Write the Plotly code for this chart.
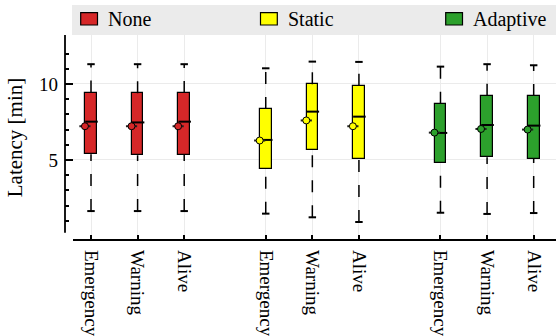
import plotly.graph_objects as go

# Latency summary statistics per scheme and message type (minutes)
schemes = ["None", "Static", "Adaptive"]
msg_types = ["Emergency", "Warning", "Alive"]
colors = ["#d62728", "#ffff00", "#2ca02c"]

q1 = {"None": [5.38, 5.31, 5.35], "Static": [4.40, 5.66, 5.07], "Adaptive": [4.80, 5.18, 5.09]}
median = {"None": [7.52, 7.47, 7.52], "Static": [6.32, 8.18, 7.85], "Adaptive": [6.78, 7.30, 7.26]}
q3 = {"None": [9.43, 9.39, 9.40], "Static": [8.36, 9.98, 9.89], "Adaptive": [8.70, 9.23, 9.21]}
mean = {"None": [7.22, 7.22, 7.22], "Static": [6.28, 7.60, 7.22], "Adaptive": [6.80, 7.04, 7.00]}
upper = {"None": [11.30, 11.30, 11.30], "Static": [11.03, 11.47, 11.45], "Adaptive": [11.14, 11.30, 11.23]}
lower = {"None": [1.64, 1.64, 1.64], "Static": [1.47, 1.23, 0.92], "Adaptive": [1.53, 1.45, 1.51]}

FONT = "Liberation Serif"
BOX_W = 0.25
GROUP_STEP = 3.75

W, H = 556, 336
ML, MR, MT, MB = 65, 0, 35, 96
PW, PH = W - ML - MR, H - MT - MB


def px_x(p):
    return (p - ML) / PW


def px_y(p):
    return (H - MB - p) / PH


fig = go.Figure()
tick_pos, tick_txt = [], []

for g, name in enumerate(schemes):
    col = colors[g]
    pos = [g * GROUP_STEP + i for i in range(len(msg_types))]
    tick_pos += pos
    tick_txt += msg_types

    # boxes (Q1..Q3)
    fig.add_trace(go.Bar(
        x=pos, y=[b - a for a, b in zip(q1[name], q3[name])], base=q1[name],
        width=BOX_W, marker=dict(color=col, line=dict(color="black", width=1.2)),
        showlegend=False, hoverinfo="skip"))

    # dashed whiskers: upper drawn from the box outward, lower from the cap inward
    ux, uy, lx, ly, cx, cy, mx, my = [], [], [], [], [], [], [], []
    for k, p in enumerate(pos):
        ux += [p, p, None]
        uy += [q3[name][k], upper[name][k], None]
        lx += [p, p, None]
        ly += [lower[name][k], q1[name][k], None]
        for v in (upper[name][k], lower[name][k]):
            cx += [p - 0.08, p + 0.08, None]
            cy += [v, v, None]
        mx += [p - BOX_W / 2, p + BOX_W / 2 + 0.02, None]
        my += [median[name][k], median[name][k], None]

    dash = dict(color="black", width=1.5, dash="12px,13px")
    fig.add_trace(go.Scatter(x=ux, y=uy, mode="lines", line=dash, showlegend=False, hoverinfo="skip"))
    fig.add_trace(go.Scatter(x=lx, y=ly, mode="lines", line=dash, showlegend=False, hoverinfo="skip"))
    fig.add_trace(go.Scatter(x=cx, y=cy, mode="lines", line=dict(color="black", width=2),
                             showlegend=False, hoverinfo="skip"))
    fig.add_trace(go.Scatter(x=mx, y=my, mode="lines", line=dict(color="black", width=2),
                             showlegend=False, hoverinfo="skip"))

    # mean with short horizontal bar
    fig.add_trace(go.Scatter(
        x=[p - 0.13 for p in pos], y=mean[name], mode="markers",
        marker=dict(symbol="circle", size=7, color=col, line=dict(color="black", width=1)),
        error_x=dict(type="constant", value=0.12, thickness=2, width=0, color="#222222"),
        showlegend=False, hoverinfo="skip"))

# legend band with swatches and labels
fig.add_shape(type="rect", xref="paper", yref="paper", x0=px_x(72), x1=1.0, y0=px_y(35), y1=px_y(5),
              fillcolor="#ebebeb", line=dict(width=0), layer="below")
swatch_left = [80.7, 260.5, 445.7]
for g, name in enumerate(schemes):
    x0 = swatch_left[g]
    fig.add_shape(type="rect", xref="paper", yref="paper",
                  x0=px_x(x0), x1=px_x(x0 + 16.8), y0=px_y(25), y1=px_y(12.7),
                  fillcolor=colors[g], line=dict(color="black", width=1.2))
    fig.add_annotation(text=name, xref="paper", yref="paper", x=px_x(x0 + 25), y=px_y(19.5),
                       xanchor="left", yanchor="middle", showarrow=False,
                       font=dict(family=FONT, size=20, color="black"))

# detached axis spines
fig.add_shape(type="line", xref="paper", yref="y", x0=0, x1=0, y0=0.22, y1=13.22,
              line=dict(color="black", width=1.8))
fig.add_shape(type="line", xref="paper", yref="paper", x0=px_x(73), x1=1.0, y0=0, y1=0,
              line=dict(color="black", width=2))

fig.update_layout(
    width=W, height=H, margin=dict(l=ML, r=MR, t=MT, b=MB),
    plot_bgcolor="white", paper_bgcolor="white",
    barmode="overlay", bargap=0,
    font_family=FONT, font_size=19, font_color="black",
)
fig.update_xaxes(range=[-0.558, 9.979], tickmode="array", tickvals=tick_pos, ticktext=tick_txt,
                 tickangle=90, showgrid=True, gridcolor="#ebebeb", gridwidth=1,
                 ticks="inside", ticklen=5, tickcolor="black", tickwidth=1.5,
                 showline=False, zeroline=False, ticklabelstandoff=9,
                 tickfont_family=FONT, tickfont_size=19)
fig.update_yaxes(range=[-0.263, 13.22], tickmode="array", tickvals=[5, 10], ticktext=["5", "10"],
                 showgrid=True, gridcolor="#ebebeb", gridwidth=1, zeroline=False, showline=False,
                 ticks="inside", ticklen=8, tickcolor="black", tickwidth=1.5,
                 minor=dict(tickmode="array", tickvals=[1, 2, 3, 4, 6, 7, 8, 9, 11, 12],
                            ticks="inside", ticklen=4, tickcolor="black", tickwidth=1.5, showgrid=False),
                 ticklabelstandoff=6,
                 title_text="Latency [min]", title_font_family=FONT, title_font_size=21,
                 title_standoff=10, tickfont_family=FONT, tickfont_size=19)

fig.write_html("out.html")
